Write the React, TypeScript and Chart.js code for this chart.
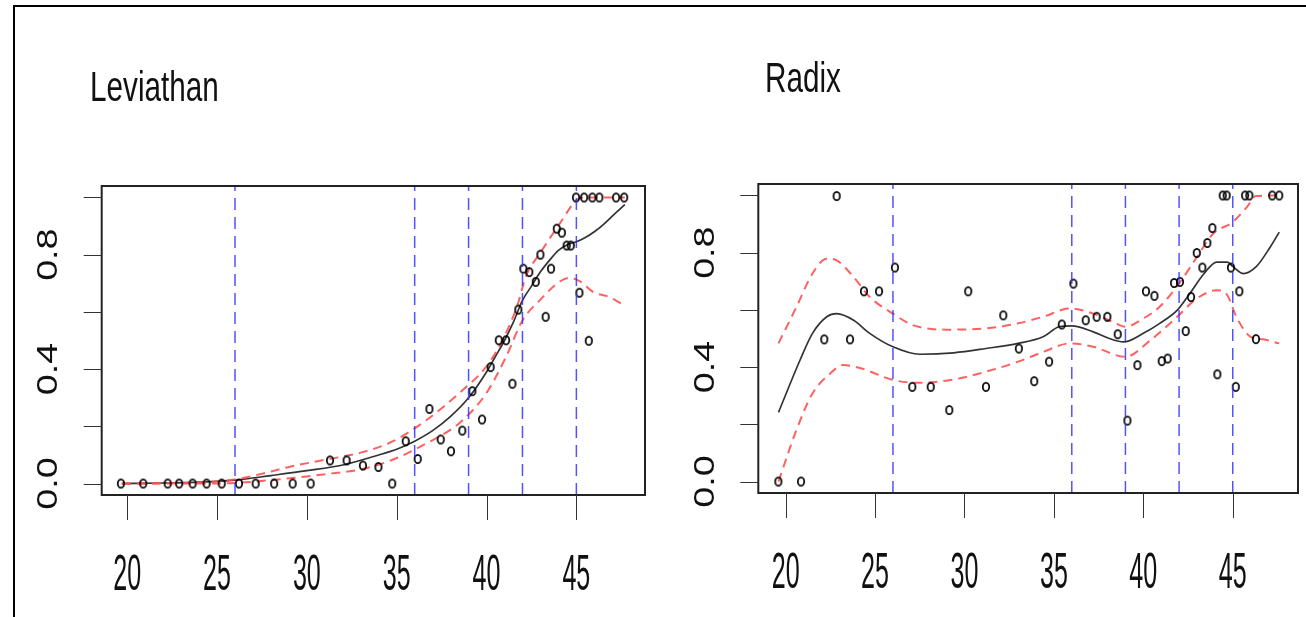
import React, { useEffect, useRef } from "react";
import { Chart, registerables } from "chart.js";

Chart.register(...registerables);

// ---- axes ----
const X_TICKS = [20, 25, 30, 35, 40, 45];
const X_TICK_LABELS = ["20", "25", "30", "35", "40", "45"];
const Y_TICKS = [0, 0.2, 0.4, 0.6, 0.8, 1.0];
const Y_TICK_LABELS = ["0.0", "", "0.4", "", "0.8", ""];
const CUT_POINTS = [26, 36, 39, 42, 45];

// ---- Leviathan ----
const levX = [19.65, 20.89, 22.25, 22.89, 23.64, 24.42, 25.26, 26.22, 27.15, 28.18, 29.21, 30.21, 31.29, 32.21, 33.12, 33.98, 34.75, 35.5, 36.17, 36.82, 37.45, 38.02, 38.65, 39.21, 39.75, 40.23, 40.68, 41.09, 41.44, 41.77, 42.05, 42.38, 42.74, 43.0, 43.29, 43.59, 43.91, 44.19, 44.46, 44.69, 44.98, 45.17, 45.43, 45.69, 45.89, 46.28, 47.21, 47.66];
const levY = [0, 0, 0, 0, 0, 0, 0, 0, 0, 0, 0, 0, 0.081, 0.081, 0.063, 0.058, 0, 0.148, 0.086, 0.261, 0.154, 0.113, 0.185, 0.323, 0.224, 0.407, 0.501, 0.501, 0.349, 0.608, 0.751, 0.739, 0.705, 0.8, 0.583, 0.751, 0.891, 0.877, 0.832, 0.832, 1.0, 0.667, 1.0, 0.499, 1.0, 1.0, 1.0, 1.0];

const levFitX = [19.7, 22, 24, 26, 28, 30, 32, 34, 35, 36, 37, 38, 39, 40, 40.5, 41, 41.5, 42, 42.5, 43, 43.5, 44, 44.5, 45, 45.5, 46, 46.5, 47, 47.7];
const levFitY = [0, 0.002, 0.005, 0.012, 0.028, 0.045, 0.065, 0.1, 0.12, 0.148, 0.185, 0.235, 0.3, 0.39, 0.445, 0.5, 0.565, 0.64, 0.69, 0.74, 0.78, 0.815, 0.835, 0.845, 0.86, 0.88, 0.905, 0.935, 0.975];

const levUpX = [19.7, 22, 24, 25.5, 26.5, 28, 29, 31, 33, 34.8, 36.7, 38.5, 40, 40.9, 41.7, 42.2, 43, 44.1, 45, 45.5, 46.5, 47.7];
const levUpY = [0, 0.001, 0.004, 0.01, 0.02, 0.042, 0.058, 0.083, 0.108, 0.148, 0.224, 0.317, 0.41, 0.503, 0.62, 0.725, 0.807, 0.911, 0.99, 1.0, 1.0, 1.0];

const levLoX = [19.7, 22, 24, 26, 28, 30, 32, 33, 34.8, 36.7, 38.5, 40, 41.1, 42, 43, 44.1, 44.65, 45.2, 46, 46.7, 47.6];
const levLoY = [0, 0, 0, 0.002, 0.012, 0.025, 0.04, 0.049, 0.084, 0.142, 0.212, 0.317, 0.445, 0.57, 0.643, 0.707, 0.719, 0.707, 0.667, 0.655, 0.626];

// ---- Radix ----
const radX = [19.59, 20.86, 22.16, 22.85, 23.6, 24.38, 25.22, 26.11, 27.08, 28.11, 29.15, 30.21, 31.2, 32.17, 33.04, 33.9, 34.73, 35.44, 36.09, 36.78, 37.39, 37.99, 38.57, 39.11, 39.67, 40.15, 40.62, 41.03, 41.36, 41.72, 42.05, 42.37, 42.67, 42.99, 43.3, 43.58, 43.86, 44.14, 44.44, 44.66, 44.9, 45.17, 45.37, 45.69, 45.93, 46.3, 47.21, 47.6];
const radY = [0, 0, 0.497, 0.998, 0.497, 0.665, 0.665, 0.748, 0.331, 0.331, 0.25, 0.665, 0.331, 0.581, 0.465, 0.351, 0.419, 0.549, 0.692, 0.564, 0.576, 0.576, 0.515, 0.213, 0.407, 0.665, 0.649, 0.421, 0.43, 0.694, 0.698, 0.526, 0.645, 0.799, 0.748, 0.834, 0.886, 0.375, 1.0, 1.0, 0.748, 0.331, 0.665, 1.0, 1.0, 0.498, 1.0, 1.0];

const radFitX = [19.6, 20.8, 21.5, 22.3, 22.85, 23.8, 24.7, 26, 27.5, 29.4, 31.2, 33, 34.4, 35.3, 36, 37.2, 38.1, 38.9, 40, 40.9, 41.9, 42.6, 43.4, 44.1, 44.7, 45, 45.6, 46.3, 47.1, 47.6];
const radFitY = [0.242, 0.424, 0.518, 0.576, 0.587, 0.564, 0.518, 0.471, 0.445, 0.45, 0.465, 0.483, 0.506, 0.541, 0.544, 0.523, 0.5, 0.488, 0.518, 0.552, 0.599, 0.657, 0.727, 0.767, 0.767, 0.752, 0.727, 0.75, 0.82, 0.872];

const radUpX = [19.6, 20.6, 21.5, 22.3, 22.85, 23.8, 24.7, 26, 27.1, 29, 31.2, 33, 34.4, 35.9, 37.2, 38.5, 39, 40, 40.9, 42, 43, 43.9, 45, 45.8, 46.3, 47.6];
const radUpY = [0.483, 0.61, 0.727, 0.779, 0.773, 0.715, 0.645, 0.587, 0.547, 0.531, 0.535, 0.553, 0.576, 0.605, 0.587, 0.552, 0.541, 0.57, 0.61, 0.692, 0.785, 0.866, 0.907, 0.96, 0.998, 1.0];

const radLoX = [19.6, 20.6, 21.5, 22.5, 23.2, 24.2, 26, 27.5, 29.4, 31.2, 33, 34.4, 35.9, 37.2, 39, 40.4, 41.9, 43, 44.1, 44.7, 45.2, 46, 46.7, 47.6];
const radLoY = [0.0, 0.18, 0.308, 0.378, 0.407, 0.396, 0.355, 0.345, 0.357, 0.384, 0.419, 0.453, 0.483, 0.471, 0.436, 0.494, 0.576, 0.64, 0.669, 0.651, 0.576, 0.506, 0.497, 0.483];

type Pt = { x: number; y: number };
const zip = (xs: number[], ys: number[]): Pt[] => xs.map((x, i) => ({ x, y: ys[i] }));

type PanelCfg = {
  title: string;
  titleX: number;
  titleBase: number;
  left: number;
  pad: { left: number; right: number; top: number; bottom: number };
  xMin: number;
  xMax: number;
  yMin: number;
  yMax: number;
  yLabelX: number;
  xLabelBase: number;
  px: number[];
  py: number[];
  fit: Pt[];
  up: Pt[];
  lo: Pt[];
};

const PANELS: PanelCfg[] = [
  {
    title: "Leviathan",
    titleX: 90,
    titleBase: 101,
    left: 0,
    pad: { left: 101.7, right: 8, top: 186, bottom: 122 },
    xMin: 18.58,
    xMax: 48.82,
    yMin: -0.04,
    yMax: 1.04,
    yLabelX: 57,
    xLabelBase: 590,
    px: levX,
    py: levY,
    fit: zip(levFitX, levFitY),
    up: zip(levUpX, levUpY),
    lo: zip(levLoX, levLoY),
  },
  {
    title: "Radix",
    titleX: 112,
    titleBase: 92,
    left: 653,
    pad: { left: 105.3, right: 8, top: 184, bottom: 124 },
    xMin: 18.47,
    xMax: 48.65,
    yMin: -0.04,
    yMax: 1.04,
    yLabelX: 61,
    xLabelBase: 588,
    px: radX,
    py: radY,
    fit: zip(radFitX, radFitY),
    up: zip(radUpX, radUpY),
    lo: zip(radLoX, radLoY),
  },
];

const FONT = '"Liberation Sans", Arial, sans-serif';

function ringImage(): HTMLCanvasElement {
  const c = document.createElement("canvas");
  c.width = 10;
  c.height = 12;
  const g = c.getContext("2d")!;
  g.strokeStyle = "#000";
  g.lineWidth = 1.7;
  g.beginPath();
  g.ellipse(5, 6, 3.2, 4.2, 0, 0, Math.PI * 2);
  g.stroke();
  return c;
}

// Draws the R-style frame: box, outside ticks, stretched labels and the title.
const rFrame = {
  id: "rFrame",
  afterDatasetsDraw(chart: any, _args: any, opts: any) {
    const cfg: PanelCfg = opts.cfg;
    const { ctx, chartArea: a, scales } = chart;
    const xs = scales.x;
    const ys = scales.y;
    ctx.save();
    ctx.strokeStyle = "#222";
    ctx.lineWidth = 2;
    ctx.strokeRect(a.left, a.top, a.right - a.left, a.bottom - a.top);

    ctx.lineWidth = 1;
    ctx.strokeStyle = "#333";
    ctx.beginPath();
    X_TICKS.forEach((v) => {
      const p = Math.round(xs.getPixelForValue(v)) + 0.5;
      ctx.moveTo(p, a.bottom);
      ctx.lineTo(p, a.bottom + 25);
    });
    Y_TICKS.forEach((v) => {
      const p = Math.round(ys.getPixelForValue(v)) + 0.5;
      ctx.moveTo(a.left, p);
      ctx.lineTo(a.left - 18, p);
    });
    ctx.stroke();

    ctx.fillStyle = "#111";
    ctx.textAlign = "center";
    ctx.textBaseline = "alphabetic";
    ctx.font = `27px ${FONT}`;
    X_TICKS.forEach((v, i) => {
      ctx.save();
      ctx.translate(xs.getPixelForValue(v), cfg.xLabelBase);
      ctx.scale(0.93, 1.85);
      ctx.fillText(X_TICK_LABELS[i], 0, 0);
      ctx.restore();
    });

    ctx.font = `29px ${FONT}`;
    Y_TICKS.forEach((v, i) => {
      if (!Y_TICK_LABELS[i]) return;
      ctx.save();
      ctx.translate(cfg.yLabelX, ys.getPixelForValue(v));
      ctx.scale(1, 1.3);
      ctx.rotate(-Math.PI / 2);
      ctx.fillText(Y_TICK_LABELS[i], 0, 0);
      ctx.restore();
    });

    ctx.textAlign = "left";
    ctx.font = `30px ${FONT}`;
    ctx.save();
    ctx.translate(cfg.titleX, cfg.titleBase);
    ctx.scale(0.99, 1.42);
    ctx.fillText(cfg.title, 0, 0);
    ctx.restore();
    ctx.restore();
  },
};

function Panel({ cfg }: { cfg: PanelCfg }) {
  const ref = useRef<HTMLCanvasElement>(null);
  useEffect(() => {
    const ring = ringImage();
    const cutSets = CUT_POINTS.map((c) => ({
      data: [
        { x: c, y: cfg.yMin },
        { x: c, y: cfg.yMax },
      ],
      showLine: true,
      borderColor: "rgba(50,50,255,0.85)",
      borderWidth: 1.5,
      borderDash: [12, 7],
      pointRadius: 0,
    }));
    const curve = (data: Pt[], color: string, width: number, dash: number[]) => ({
      data,
      showLine: true,
      borderColor: color,
      borderWidth: width,
      borderDash: dash,
      pointRadius: 0,
      cubicInterpolationMode: "monotone" as const,
    });
    const chart = new Chart(ref.current!, {
      type: "scatter",
      data: {
        datasets: [
          ...cutSets,
          {
            data: zip(cfg.px, cfg.py),
            pointStyle: ring,
            pointRadius: 5,
            showLine: false,
          },
          curve(cfg.up, "rgba(255,80,80,0.9)", 2, [9, 6]),
          curve(cfg.lo, "rgba(255,80,80,0.9)", 2, [9, 6]),
          curve(cfg.fit, "#333", 1.7, []),
        ] as any,
      },
      options: {
        responsive: false,
        animation: false,
        layout: { padding: cfg.pad },
        plugins: {
          legend: { display: false },
          tooltip: { enabled: false },
          rFrame: { cfg },
        } as any,
        scales: {
          x: { type: "linear", display: false, min: cfg.xMin, max: cfg.xMax },
          y: { type: "linear", display: false, min: cfg.yMin, max: cfg.yMax },
        },
      },
      plugins: [rFrame],
    });
    return () => chart.destroy();
  }, [cfg]);
  return (
    <canvas
      ref={ref}
      width={653}
      height={617}
      style={{ position: "absolute", left: cfg.left, top: 0, width: 653, height: 617 }}
    />
  );
}

export default function App() {
  useEffect(() => {
    document.body.style.margin = "0";
  }, []);
  return (
    <div style={{ position: "relative", width: 1306, height: 617, overflow: "hidden", background: "#fff" }}>
      {PANELS.map((p) => (
        <Panel key={p.title} cfg={p} />
      ))}
      <div style={{ position: "absolute", left: 13, top: 5, width: 2, height: 612, background: "#000" }} />
      <div style={{ position: "absolute", left: 13, top: 5, width: 1293, height: 2, background: "#000" }} />
    </div>
  );
}
